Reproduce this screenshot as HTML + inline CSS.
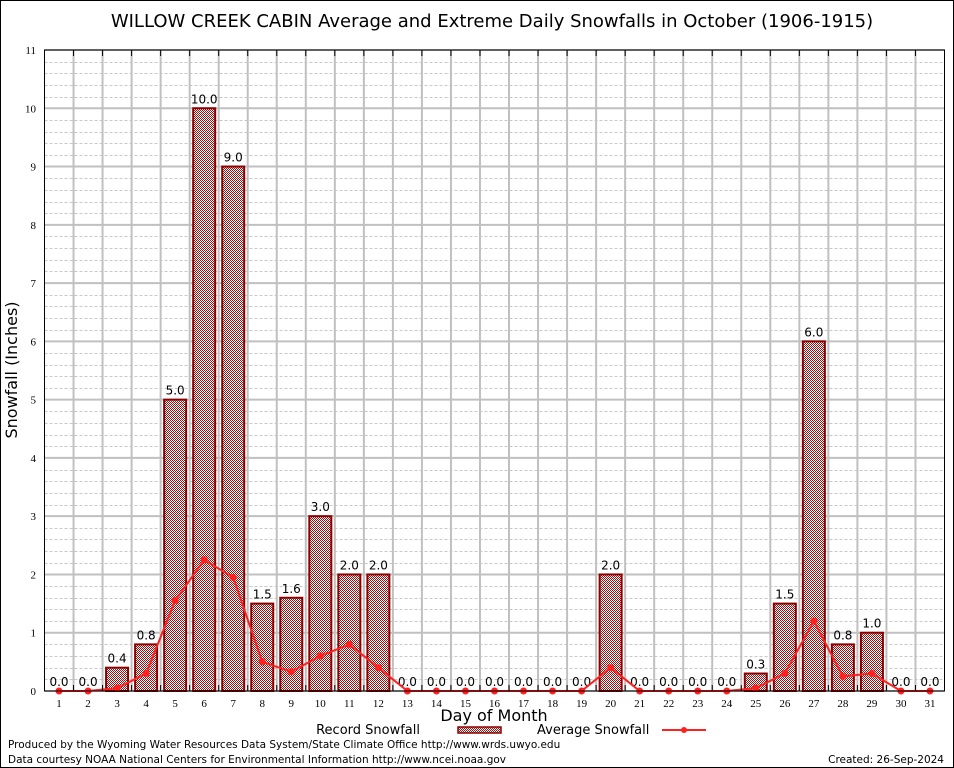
<!DOCTYPE html>
<html><head><meta charset="utf-8"><style>
body{margin:0;background:#fff;}
svg{display:block;font-family:"DejaVu Sans","Liberation Sans",sans-serif;}
</style></head><body>
<svg id="c" width="954" height="768" viewBox="0 0 954 768">
<defs>
<pattern id="chk" width="2" height="2" patternUnits="userSpaceOnUse">
<rect width="2" height="2" fill="#fff"/>
<rect width="1" height="1" fill="#a01010"/><rect x="1" y="1" width="1" height="1" fill="#a01010"/>
</pattern>
</defs>
<rect x="0.5" y="0.5" width="953" height="767" fill="none" stroke="#000"/>
<text x="492" y="27" font-size="18" text-anchor="middle">WILLOW CREEK CABIN Average and Extreme Daily Snowfalls in October (1906-1915)</text>
<g id="grid"></g>
<g id="bars"></g>
<g id="avg"></g>
<rect x="44.5" y="50" width="900" height="641" fill="none" stroke="#000"/>
<g id="axes"></g>
<text transform="translate(17,370) rotate(-90)" font-size="16" text-anchor="middle">Snowfall (Inches)</text>
<text x="494" y="721" font-size="16" text-anchor="middle">Day of Month</text>
<g>
<text x="420" y="734" font-size="13" text-anchor="end">Record Snowfall</text>
<rect x="458" y="727" width="43" height="6" fill="url(#chk)" stroke="#8b0000" stroke-width="1.5"/>
<text x="537" y="734" font-size="13">Average Snowfall</text>
<line x1="662" y1="730" x2="706" y2="730" stroke="#ff2020" stroke-width="2"/>
<circle cx="684" cy="730" r="3" fill="#ff2020"/>
</g>
<text x="8" y="748" font-size="10.5">Produced by the Wyoming Water Resources Data System/State Climate Office http://www.wrds.uwyo.edu</text>
<text x="8" y="763" font-size="10.5">Data courtesy NOAA National Centers for Environmental Information http://www.ncei.noaa.gov</text>
<text x="944" y="763" font-size="10.5" text-anchor="end">Created:  26-Sep-2024</text>
</svg>
<script>
const days=[1,2,3,4,5,6,7,8,9,10,11,12,13,14,15,16,17,18,19,20,21,22,23,24,25,26,27,28,29,30,31];
const recordVals=[0,0,0.4,0.8,5,10,9,1.5,1.6,3,2,2,0,0,0,0,0,0,0,2,0,0,0,0,0.3,1.5,6,0.8,1,0,0];
const avgVals=[0,0,0.05,0.3,1.55,2.25,1.95,0.5,0.33,0.6,0.8,0.4,0,0,0,0,0,0,0,0.4,0,0,0,0,0.05,0.3,1.2,0.25,0.3,0,0];
const yTicks=[0,1,2,3,4,5,6,7,8,9,10,11];
const NS='http://www.w3.org/2000/svg';
const X=d=>44.5+(d-0.5)*(900/31);
const Y=v=>691-v*(641/11);
function mk(p,t,a){const e=document.createElementNS(NS,t);for(const k in a)e.setAttribute(k,a[k]);document.getElementById(p).appendChild(e);return e;}
for(let v=0;v<=11;v+=0.2){const y=Math.round(Y(v))+0.5;if(Math.abs(v-Math.round(v))<0.01)continue;
const l=mk('grid','line',{x1:44.5,x2:944.5,y1:y,y2:y,stroke:'#c8c8c8','stroke-dasharray':'3,2','stroke-width':1});

}
yTicks.forEach(v=>{const y=Y(v);
const l=mk('grid','line',{x1:44.5,x2:944.5,y1:y,y2:y,stroke:'#c0c0c0','stroke-width':2});


const t=mk('axes','text',{x:36,y:y+4,'font-size':11,'text-anchor':'end','font-family':'Liberation Serif,serif'});t.textContent=v;

});
for(let i=1;i<31;i++){const x=X(i+0.5);
const l=mk('grid','line',{x1:x,x2:x,y1:50,y2:691,stroke:'#c0c0c0','stroke-width':2});


const tk=mk('axes','line',{x1:x,x2:x,y1:50,y2:56,stroke:'#000'});


const tb=mk('axes','line',{x1:x,x2:x,y1:691,y2:685,stroke:'#000'});

}
days.forEach((d,i)=>{const x=X(d),v=recordVals[i];
if(v>0){const r=mk('bars','rect',{x:x-11,y:Y(v),width:22,height:691-Y(v),fill:'url(#chk)',stroke:'#8b0000','stroke-width':2});

}
const t=mk('bars','text',{x:x,y:Y(v)-5,'font-size':12,'text-anchor':'middle'});t.textContent=v.toFixed(1);


const xt=mk('axes','text',{x:x,y:707,'font-size':11,'text-anchor':'middle','font-family':'Liberation Serif,serif'});xt.textContent=d;

});
const pl=mk('avg','polyline',{points:days.map((d,i)=>X(d)+','+Y(avgVals[i])).join(' '),fill:'none',stroke:'#ff2020','stroke-width':2});


days.forEach((d,i)=>{const c=mk('avg','circle',{cx:X(d),cy:Y(avgVals[i]),r:3.5,fill:'#ff2020'});

});
</script>
</body></html>
